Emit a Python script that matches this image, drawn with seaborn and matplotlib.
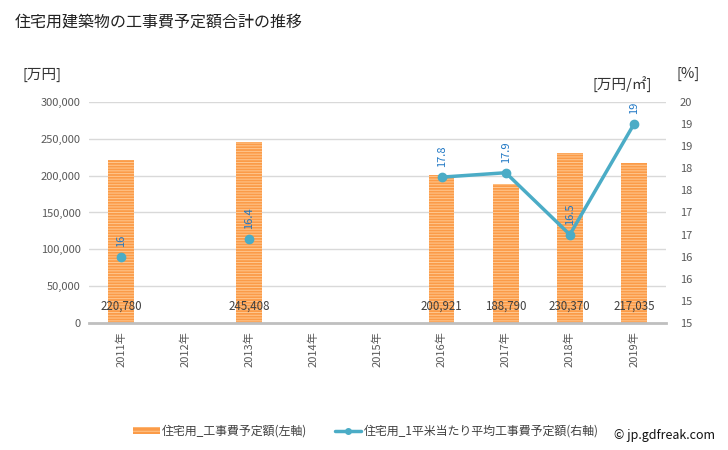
import numpy as np
import pandas as pd
import matplotlib
matplotlib.use("Agg")
import matplotlib.pyplot as plt
import seaborn as sns
from matplotlib.patches import Patch
from matplotlib.lines import Line2D

years = ["2011年", "2012年", "2013年", "2014年", "2015年", "2016年", "2017年", "2018年", "2019年"]
cost = [220780, np.nan, 245408, np.nan, np.nan, 200921, 188790, 230370, 217035]
per_m2 = [16.0, np.nan, 16.4, np.nan, np.nan, 17.8, 17.9, 16.5, 19.0]
per_m2_labels = ["16", "", "16.4", "", "", "17.8", "17.9", "16.5", "19"]
left_ticks = [0, 50000, 100000, 150000, 200000, 250000, 300000]
right_ticks = [14.5, 15, 15.5, 16, 16.5, 17, 17.5, 18, 18.5, 19, 19.5]

title = "住宅用建築物の工事費予定額合計の推移"
bar_name = "住宅用_工事費予定額(左軸)"
line_name = "住宅用_1平米当たり平均工事費予定額(右軸)"

sns.set_theme(style="white")
plt.rcParams["font.family"] = ["Noto Sans CJK JP", "DejaVu Sans"]
plt.rcParams["hatch.linewidth"] = 0.7

BAR = "#FB9B48"
STRIPE = "#FFC891"
LINE = "#4BACC6"
TXT = "#595959"

fig = plt.figure(figsize=(7.28, 4.5), dpi=100)
ax = fig.add_axes([89 / 728, 1 - 323 / 450, (666 - 89) / 728, (323 - 102) / 450])

df = pd.DataFrame({"year": years, "cost": cost}).dropna()
sns.barplot(data=df, x="year", y="cost", order=years, ax=ax, color=BAR,
            width=0.4, saturation=1, edgecolor=STRIPE, linewidth=0, hatch="------")

ax.set_ylim(0, 300000)
ax.set_xlim(-0.5, len(years) - 0.5)
ax.set_yticks(left_ticks)
ax.set_yticklabels([f"{v:,}" for v in left_ticks], fontsize=8, color=TXT)
ax.set_xticks(range(len(years)))
ax.set_xticklabels(years, rotation=90, fontsize=8, color=TXT)
ax.set_xlabel("")
ax.set_ylabel("")
ax.grid(axis="y", color="#d9d9d9", linewidth=1)
ax.set_axisbelow(True)
for s in ["top", "right", "left"]:
    ax.spines[s].set_visible(False)
ax.spines["bottom"].set_color("#bfbfbf")
ax.spines["bottom"].set_linewidth(2)
ax.tick_params(axis="both", length=0, pad=6)

for i, v in enumerate(cost):
    if not np.isnan(v):
        ax.annotate(f"{int(v):,}", (i, 0), xytext=(0, 12), textcoords="offset points",
                    ha="center", va="center", fontsize=8.3, color="#404040")

ax2 = ax.twinx()
ax2.plot(range(len(years)), per_m2, color=LINE, linewidth=2.5, marker="o",
         markersize=6, zorder=5)
ax2.set_ylim(14.5, 19.5)
ax2.set_yticks(right_ticks)
ax2.set_yticklabels([str(int(v + 0.5)) for v in right_ticks], fontsize=8, color=TXT)
ax2.tick_params(axis="y", length=0, pad=10)
for s in ["top", "right", "left", "bottom"]:
    ax2.spines[s].set_visible(False)
ax2.grid(False)

for i, (v, lab) in enumerate(zip(per_m2, per_m2_labels)):
    if not np.isnan(v):
        ax2.annotate(lab, (i, v), xytext=(0, 7), textcoords="offset points",
                     ha="center", va="bottom", rotation=90, fontsize=8, color="#1F77C4")

fig.text(15 / 728, 1 - 22 / 450, title, fontsize=11.5, va="center", ha="left", color="#222222")
fig.text(22 / 728, 1 - 75 / 450, "[万円]", fontsize=10.5, va="center", ha="left", color="#333333")
fig.text(593 / 728, 1 - 85 / 450, "[万円/㎡]", fontsize=10.5, va="center", ha="left", color="#333333")
fig.text(677 / 728, 1 - 74 / 450, "[%]", fontsize=10.5, va="center", ha="left", color="#333333")

handles = [
    Patch(facecolor=BAR, edgecolor=STRIPE, linewidth=0, hatch="----"),
    Line2D([0], [0], color=LINE, linewidth=2.5, marker="o", markersize=4),
]
fig.legend(handles, [bar_name, line_name], loc="center", ncol=2,
           bbox_to_anchor=(366 / 728, 1 - 431 / 450), frameon=False, fontsize=8.6,
           handlelength=2.2, handleheight=0.5, handletextpad=0.2, columnspacing=2.3,
           labelcolor="#404040")
fig.text(715 / 728, 1 - 435 / 450, "© jp.gdfreak.com", fontsize=9, ha="right",
         va="center", color="#111111")

fig.savefig("out.png", dpi=100)
